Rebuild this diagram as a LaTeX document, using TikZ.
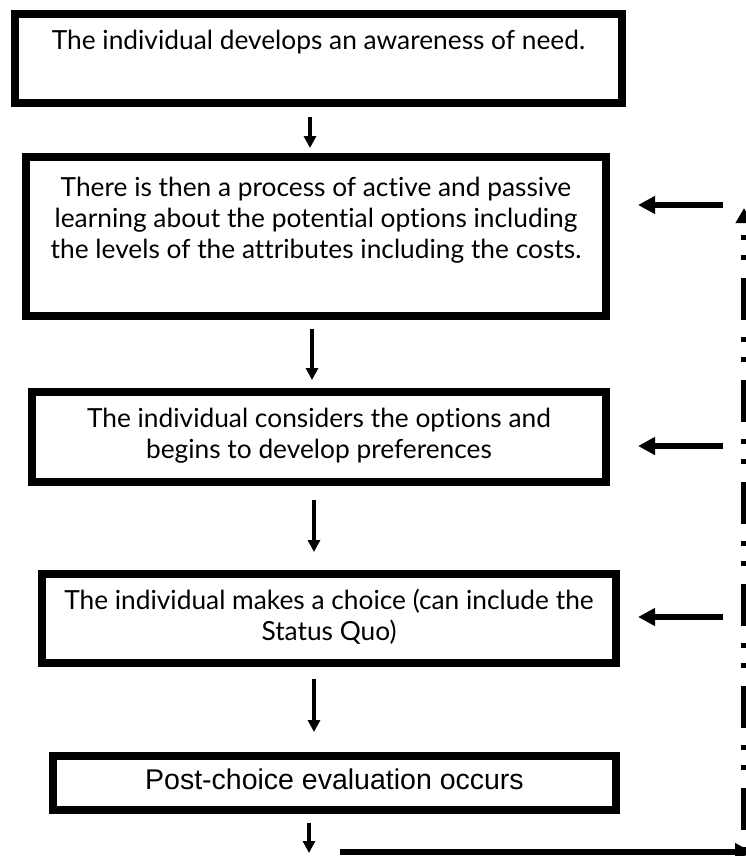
\documentclass[tikz,border=0pt]{standalone}
\usepackage{fontspec}
\setmainfont{Lato}[Ligatures=NoCommon]
\newfontfamily\arialfont{Liberation Sans}
\usetikzlibrary{positioning, arrows.meta}
\tikzset{
  stepbox/.style={draw, line width=8pt, rectangle, align=center,
    inner sep=0pt, font=\fontsize{26.3}{31}\selectfont},
  down/.style={line width=4pt, -{Triangle[width=12pt,length=12pt]}},
  back/.style={line width=6pt, -{Triangle[width=17pt,length=17pt]}},
  rail/.style={line width=6pt,
    dash pattern=on 42pt off 18pt on 5pt off 15pt on 5pt off 17pt,
    dash phase=80pt},
}

\begin{document}
\begin{tikzpicture}[x=1pt, y=-1pt]
\useasboundingbox (0,0) rectangle (746,856);
\fill[white] (0,0) rectangle (746,856);

% the five steps
\node[stepbox, minimum width=607pt, minimum height=89pt] (need) at (318.5,58.5)
  {\strut The individual develops an awareness of need.\\ \strut};
\node[stepbox, minimum width=580pt, minimum height=159pt] (learn) at (316,236.5)
  {\strut There is then a process of active and passive\\
   \strut learning about the potential options including\\
   \strut the levels of the attributes including the costs.\\ \strut};
\node[stepbox, minimum width=574pt, minimum height=90pt] (consider) at (319,437)
  {\strut The individual considers the options and\\
   \strut begins to develop preferences};
\node[stepbox, minimum width=574pt, minimum height=89pt] (choice) at (329,618.5)
  {\strut The individual makes a choice (can include the\\
   \strut Status Quo)};
\node[stepbox, minimum width=563pt, minimum height=54pt,
  font=\arialfont\fontsize{28.5}{32}\selectfont] (evaluate) at (334.5,783)
  {\strut Post-choice evaluation occurs};

% downward flow
\draw[down, shorten <=10pt, shorten >=5pt] (need.south -| 310,0) -- (learn.north -| 310,0);
\draw[down, shorten <=9pt, shorten >=8pt] (learn.south -| 312,0) -- (consider.north -| 312,0);
\draw[down, shorten <=14pt, shorten >=18pt] (consider.south -| 314,0) -- (choice.north -| 314,0);
\draw[down, shorten <=12pt, shorten >=20pt] (choice.south -| 314,0) -- (evaluate.north -| 314,0);
\coordinate (end) at (309,853);
\draw[down, shorten <=9pt] (evaluate.south -| end) -- (end);

% feedback loop
\coordinate (exit) at (340,852);
\coordinate (rail bottom) at (744,852);
\coordinate (rail top) at (744,208);
\draw[line width=6pt, -{Triangle[width=17pt,length=17pt]}] (exit) -- (752,852);
\draw[rail, -{Triangle[width=16pt,length=15pt,sep=0pt]}] (rail bottom) -- (rail top);
\draw[back, shorten <=21pt, shorten >=28pt] (rail top |- 0,205) -- (learn.east |- 0,205);
\draw[back, shorten <=21pt, shorten >=28pt] (rail top |- 0,446) -- (consider.east |- 0,446);
\draw[back, shorten <=21pt, shorten >=18pt] (rail top |- 0,617) -- (choice.east |- 0,617);
\end{tikzpicture}
\end{document}
